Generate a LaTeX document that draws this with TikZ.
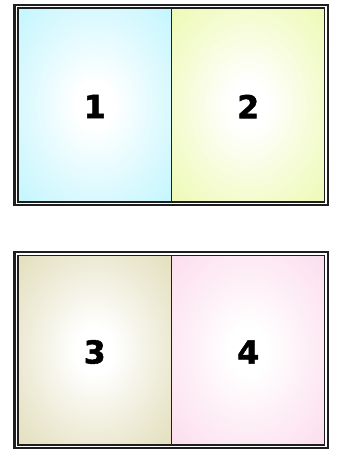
\documentclass[tikz,border=0pt]{standalone}
\usepackage{fontspec}
\newfontfamily\digitfont{DejaVu Sans Bold}[FakeBold=1.6]
\definecolor{ink}{HTML}{1E1E1E}
\definecolor{skyedge}{HTML}{C6F6FE}
\definecolor{limeedge}{HTML}{EEFAB8}
\definecolor{sandedge}{HTML}{E4E0C0}
\definecolor{roseedge}{HTML}{FCDFEE}
\colorlet{glowedge}{skyedge}
\pgfdeclareradialshading[glowedge]{softglow}{\pgfpoint{0bp}{0bp}}{%
  color(0bp)=(white); color(6bp)=(white); color(22bp)=(glowedge!60!white);
  color(34bp)=(glowedge); color(50bp)=(glowedge)}

\begin{document}
\begin{tikzpicture}[x=0.025cm,y=-0.025cm,
  every node/.style={font=\digitfont\fontsize{22.5}{24}\selectfont},
  outerframe/.style={draw=ink,line width=1.5pt},
  innerframe/.style={draw=ink,line width=1.1pt},
  divider/.style={draw=ink,line width=0.75pt},
  glow/.style={/utils/exec={\colorlet{glowedge}{#1}},shade,shading=softglow}]
\path[use as bounding box] (0,0) rectangle (340,450);
% top pair
\path[glow=skyedge] (17.8,8.2) rectangle (171.7,202);
\path[glow=limeedge] (171.7,8.2) rectangle (324.6,202);
\coordinate (t1) at (171.7,8.2);
\coordinate (t2) at (171.7,202);
\draw[divider] (t1) -- (t2);
\draw[outerframe] (14.5,4.8) rectangle (328,205.3);
\draw[innerframe] (17.8,8.2) rectangle (324.6,202);
\node (p1) at (94.7,106.5) {1};
\node (p2) at (248.2,106.5) {2};
% bottom pair
\path[glow=sandedge] (17.8,255.5) rectangle (171.7,445);
\path[glow=roseedge] (171.7,255.5) rectangle (324.6,445);
\coordinate (b1) at (171.7,255.5);
\coordinate (b2) at (171.7,445);
\draw[divider] (b1) -- (b2);
\draw[outerframe] (14.5,251.8) rectangle (328,448.2);
\draw[innerframe] (17.8,255.5) rectangle (324.6,445);
\node (p3) at (94.7,352) {3};
\node (p4) at (248.2,352) {4};
\end{tikzpicture}
\end{document}
